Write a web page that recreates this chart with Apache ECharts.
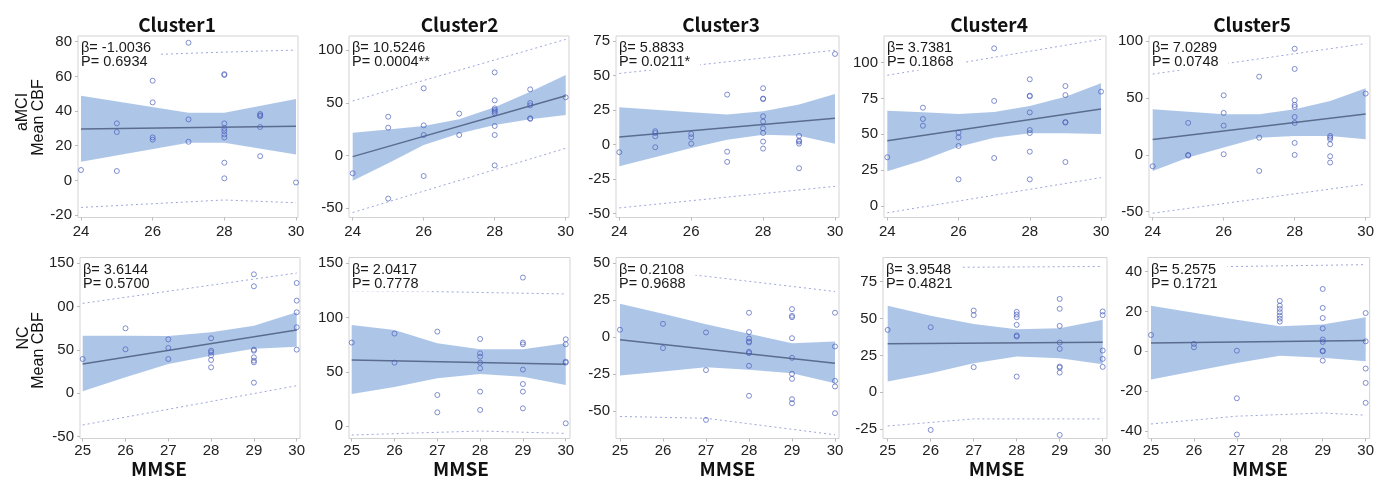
<!DOCTYPE html>
<html><head><meta charset="utf-8">
<script src="https://cdn.jsdelivr.net/npm/echarts@6/dist/echarts.min.js"></script>
<style>html,body{margin:0;padding:0;background:#fff;}#chart{width:1377px;height:479px;}</style>
</head><body><div id="chart"></div>
<script>
// ---------------- DATA ----------------
const clusterNames = ['Cluster1','Cluster2','Cluster3','Cluster4','Cluster5'];
const groupNames = ['aMCI','NC'];
const yAxisTitle = 'Mean CBF';
const xAxisTitle = 'MMSE';
const xTicksAMCI = [24,26,28,30];
const xTicksNC = [25,26,27,28,29,30];

// aMCI Cluster1
const aMCI_C1_points = [[24,6],[25,32.9],[25,27.9],[25,5.4],[26,57.5],[26,45],[26,24.8],[26,23.5],[27,79.4],[27,35.2],[27,22.3],[28,61.3],[28,60.8],[28,32.9],[28,30],[28,28.5],[28,26.5],[28,24.8],[28,10.2],[28,1.2],[29,38.3],[29,37.5],[29,37],[29,30.8],[29,14],[30,-1.2]];
const aMCI_C1_fit = [[24,29.6],[30,31.2]];
const aMCI_C1_band = [[24,10.8,48.8],[27,21.7,39],[28,21.7,39],[30,15,46.9]];
const aMCI_C1_piUpper = [[24,71.5],[26,72.6],[28,74],[30,75.2]];
const aMCI_C1_piLower = [[24,-15.6],[28,-11.3],[30,-12.9]];
const aMCI_C1_stats = ['β= -1.0036','P= 0.6934'];
const aMCI_C1_yTicks = [-20,0,20,40,60,80];

// aMCI Cluster2
const aMCI_C2_points = [[24,-16.8],[25,36.8],[25,26.4],[25,-40.8],[26,63.7],[26,28.6],[26,19.5],[26,-19.4],[27,39.7],[27,19.5],[28,78.8],[28,52.3],[28,44.7],[28,43.2],[28,41.6],[28,40],[28,28],[28,19.5],[28,-9.3],[29,62.7],[29,49.8],[29,47.6],[29,35.3],[29,34.8],[30,55.2]];
const aMCI_C2_fit = [[24,-1],[30,56.7]];
const aMCI_C2_band = [[24,-23.8,21.7],[25,-7.4,24.8],[26,10,28],[27,21,34.3],[28,29,45.7],[29,34.3,60.5],[30,38.4,76.3]];
const aMCI_C2_piUpper = [[24,51.7],[30,110.1]];
const aMCI_C2_piLower = [[24,-54],[30,6.9]];
const aMCI_C2_stats = ['β= 10.5246','P= 0.0004**'];
const aMCI_C2_yTicks = [-50,0,50,100];

// aMCI Cluster3
const aMCI_C3_points = [[24,-5.5],[25,9.7],[25,8.4],[25,6],[25,-1.9],[26,7.7],[26,5.3],[26,0.7],[27,36.2],[27,-5.1],[27,-12.5],[28,40.8],[28,33.3],[28,33],[28,20.5],[28,16.7],[28,11.8],[28,8.4],[28,2.2],[28,-2.9],[29,6.3],[29,2.9],[29,2.2],[29,0.7],[29,-17.1],[30,65.6]];
const aMCI_C3_fit = [[24,5.5],[30,19.1]];
const aMCI_C3_band = [[24,-15.7,27],[26,-2.4,23.4],[27,3.6,21.7],[28,7.2,24.1],[29,6.5,29],[30,0.7,36.7]];
const aMCI_C3_piUpper = [[24,51.5],[30,68.3]];
const aMCI_C3_piLower = [[24,-45.8],[30,-30.2]];
const aMCI_C3_stats = ['β= 5.8833','P= 0.0211*'];
const aMCI_C3_yTicks = [-50,-25,0,25,50,75];

// aMCI Cluster4
const aMCI_C4_points = [[24,34],[25,68.6],[25,60.7],[25,56],[26,51.2],[26,47.9],[26,41.9],[26,18.6],[27,110],[27,73.3],[27,33.5],[28,88.4],[28,77],[28,76.5],[28,65.3],[28,53],[28,50.9],[28,37.9],[28,18.6],[29,83.7],[29,77.4],[29,58.6],[29,58.2],[29,30.7],[30,79.8]];
const aMCI_C4_fit = [[24,45.6],[30,67.7]];
const aMCI_C4_band = [[24,24.2,66.5],[25,32,65.5],[26,41.4,64.2],[27,47.7,65.6],[28,50.7,69.8],[29,50.7,76.3],[30,50.2,85.6]];
const aMCI_C4_piUpper = [[24,91.2],[30,116.3]];
const aMCI_C4_piLower = [[24,-4.7],[30,19.8]];
const aMCI_C4_stats = ['β= 3.7381','P= 0.1868'];
const aMCI_C4_yTicks = [0,25,50,75,100];

// aMCI Cluster5
const aMCI_C5_points = [[24,-10],[25,28.2],[25,0],[25,-0.6],[26,52.5],[26,37],[26,25.8],[26,0.6],[27,68.9],[27,15.2],[27,-14.1],[28,93.5],[28,75.7],[28,48.1],[28,44],[28,42.2],[28,33.4],[28,28.2],[28,10.6],[28,0],[29,16.7],[29,15.2],[29,13.8],[29,9.4],[29,-1.2],[29,-6.7],[30,54]];
const aMCI_C5_fit = [[24,13.5],[30,36.1]];
const aMCI_C5_band = [[24,-14.1,40.2],[25,-2.3,38],[26,6.5,35.8],[27,15.2,35.8],[28,16.7,40.2],[29,16.7,47.5],[30,13.8,58.7]];
const aMCI_C5_piUpper = [[24,71.2],[30,98]];
const aMCI_C5_piLower = [[24,-51.3],[30,-25.8]];
const aMCI_C5_stats = ['β= 7.0289','P= 0.0748'];
const aMCI_C5_yTicks = [-50,0,50,100];

// NC Cluster1
const NC_C1_points = [[25,39.6],[26,75],[26,50.8],[27,62.3],[27,52.3],[27,39.6],[28,63.5],[28,49.2],[28,47.3],[28,43.8],[28,38.5],[28,30],[29,137.3],[29,123.5],[29,50.4],[29,49.2],[29,41.5],[29,37.7],[29,35.8],[29,12.3],[30,127.3],[30,106.9],[30,93.5],[30,76.2],[30,50.4]];
const NC_C1_fit = [[25,33.8],[30,73.1]];
const NC_C1_band = [[25,2.3,66.5],[26,18.5,66.3],[27,33.8,66.2],[28,43.5,70.4],[29,51.5,78],[30,53.8,93.5]];
const NC_C1_piUpper = [[25,103.8],[30,138.8]];
const NC_C1_piLower = [[25,-36.5],[30,8.8]];
const NC_C1_stats = ['β= 3.6144','P= 0.5700'];
const NC_C1_yTicks = [-50,0,50,100,150];
const NC_C1_yTickLabels = ['-50','0','50','00','150'];

// NC Cluster2
const NC_C2_points = [[25,76.9],[26,85.2],[26,58.4],[27,87],[27,28.6],[27,12.6],[28,80.2],[28,67],[28,64],[28,58.4],[28,53.2],[28,31.7],[28,14.8],[29,136.8],[29,76.9],[29,75.3],[29,52],[29,38.7],[29,31.7],[29,16.3],[30,79.9],[30,75.3],[30,59.3],[30,58.4],[30,2.5]];
const NC_C2_fit = [[25,60.9],[30,56.9]];
const NC_C2_band = [[25,29.5,93.1],[26,36,88.5],[27,44,76.2],[28,48,70.7],[29,45.5,70.7],[30,37.8,76.2]];
const NC_C2_piUpper = [[25,124.5],[27,123.8],[30,121.7]];
const NC_C2_piLower = [[25,-8.3],[28,-4.6],[30,-6.8]];
const NC_C2_stats = ['β= 2.0417','P= 0.7778'];
const NC_C2_yTicks = [0,50,100,150];

// NC Cluster3
const NC_C3_points = [[25,5],[26,9],[26,-7.4],[27,3.2],[27,-22.3],[27,-56],[28,16.5],[28,3.4],[28,-0.9],[28,-2.9],[28,-3.6],[28,-9.9],[28,-10.8],[28,-19.4],[28,-39.7],[29,19],[29,14.4],[29,13.5],[29,-0.7],[29,-14],[29,-24.8],[29,-28.2],[29,-42],[29,-44.7],[30,16.5],[30,-6.3],[30,-29.6],[30,-33.4],[30,-51.5]];
const NC_C3_fit = [[25,-1.8],[30,-17.6]];
const NC_C3_band = [[25,-26,22.6],[26,-23.3,15.8],[27,-20.3,8.8],[28,-22.1,2.3],[29,-24.4,-4.1],[30,-31.2,-2.9]];
const NC_C3_piUpper = [[25,46.5],[27,41.2],[30,30.9]];
const NC_C3_piLower = [[25,-53.7],[27,-54.9],[30,-66.1]];
const NC_C3_stats = ['β= 0.2108','P= 0.9688'];
const NC_C3_yTicks = [-50,-25,0,25,50];

// NC Cluster4
const NC_C4_points = [[25,42.3],[26,44.1],[26,-25.6],[27,55.4],[27,52.3],[27,17],[28,54.5],[28,52.7],[28,50.9],[28,45.7],[28,38.5],[28,37.8],[28,10.6],[29,63.3],[29,56.6],[29,45],[29,33.7],[29,29.4],[29,17.4],[29,16.7],[29,13.3],[29,-29],[30,54.8],[30,52.3],[30,28.3],[30,22.6],[30,17.2]];
const NC_C4_fit = [[25,32.8],[30,33.9]];
const NC_C4_band = [[25,7.2,58.6],[26,12.9,51.8],[27,19.7,46.2],[28,24.2,42.8],[29,23.1,43.4],[30,19,49.1]];
const NC_C4_piUpper = [[25,84.5],[30,85.3]];
const NC_C4_piLower = [[25,-22.9],[27,-18.1],[30,-18.1]];
const NC_C4_stats = ['β= 3.9548','P= 0.4821'];
const NC_C4_yTicks = [-25,0,25,50,75];

// NC Cluster5
const NC_C5_points = [[25,8.2],[26,3.7],[26,2],[27,0.3],[27,-23.6],[27,-41.8],[28,25.3],[28,22.9],[28,21.3],[28,19.6],[28,17.9],[28,16.4],[28,14.9],[29,31.3],[29,21.8],[29,16.7],[29,11.5],[29,5.9],[29,4.7],[29,0.3],[29,0],[29,-4.7],[30,19.2],[30,5],[30,-8.7],[30,-15.9],[30,-25.9]];
const NC_C5_fit = [[25,4.2],[30,5.4]];
const NC_C5_band = [[25,-14.2,22.9],[27,-5.9,15.9],[28,-2.2,12.6],[29,-3.3,13.4],[30,-5,17.1]];
const NC_C5_piUpper = [[25,42],[30,43.5]];
const NC_C5_piLower = [[25,-36.5],[27,-32.6],[29,-31],[30,-32.1]];
const NC_C5_stats = ['β= 5.2575','P= 0.1721'];
const NC_C5_yTicks = [-40,-20,0,20,40];

// ---------------- ASSEMBLY ----------------
const panelData = [
  {pts:aMCI_C1_points, fit:aMCI_C1_fit, band:aMCI_C1_band, piU:aMCI_C1_piUpper, piL:aMCI_C1_piLower, stats:aMCI_C1_stats, yTicks:aMCI_C1_yTicks, xTicks:xTicksAMCI},
  {pts:aMCI_C2_points, fit:aMCI_C2_fit, band:aMCI_C2_band, piU:aMCI_C2_piUpper, piL:aMCI_C2_piLower, stats:aMCI_C2_stats, yTicks:aMCI_C2_yTicks, xTicks:xTicksAMCI},
  {pts:aMCI_C3_points, fit:aMCI_C3_fit, band:aMCI_C3_band, piU:aMCI_C3_piUpper, piL:aMCI_C3_piLower, stats:aMCI_C3_stats, yTicks:aMCI_C3_yTicks, xTicks:xTicksAMCI},
  {pts:aMCI_C4_points, fit:aMCI_C4_fit, band:aMCI_C4_band, piU:aMCI_C4_piUpper, piL:aMCI_C4_piLower, stats:aMCI_C4_stats, yTicks:aMCI_C4_yTicks, xTicks:xTicksAMCI},
  {pts:aMCI_C5_points, fit:aMCI_C5_fit, band:aMCI_C5_band, piU:aMCI_C5_piUpper, piL:aMCI_C5_piLower, stats:aMCI_C5_stats, yTicks:aMCI_C5_yTicks, xTicks:xTicksAMCI},
  {pts:NC_C1_points, fit:NC_C1_fit, band:NC_C1_band, piU:NC_C1_piUpper, piL:NC_C1_piLower, stats:NC_C1_stats, yTicks:NC_C1_yTicks, yLabels:NC_C1_yTickLabels, xTicks:xTicksNC},
  {pts:NC_C2_points, fit:NC_C2_fit, band:NC_C2_band, piU:NC_C2_piUpper, piL:NC_C2_piLower, stats:NC_C2_stats, yTicks:NC_C2_yTicks, xTicks:xTicksNC},
  {pts:NC_C3_points, fit:NC_C3_fit, band:NC_C3_band, piU:NC_C3_piUpper, piL:NC_C3_piLower, stats:NC_C3_stats, yTicks:NC_C3_yTicks, xTicks:xTicksNC},
  {pts:NC_C4_points, fit:NC_C4_fit, band:NC_C4_band, piU:NC_C4_piUpper, piL:NC_C4_piLower, stats:NC_C4_stats, yTicks:NC_C4_yTicks, xTicks:xTicksNC},
  {pts:NC_C5_points, fit:NC_C5_fit, band:NC_C5_band, piU:NC_C5_piUpper, piL:NC_C5_piLower, stats:NC_C5_stats, yTicks:NC_C5_yTicks, xTicks:xTicksNC}
];

// layout: plot boxes (px) and axis extents
const layout = [
  {l:78,  t:36,    w:220, h:181.5, x0:23.916, x1:30.056, y0:-21.4, y1:83.3},
  {l:349, t:36,    w:220, h:181.5, x0:23.896, x1:30.093, y0:-58.7, y1:113.3},
  {l:616, t:36,    w:223, h:181.5, x0:23.908, x1:30.111, y0:-52.75, y1:78.6},
  {l:884, t:36,    w:222, h:181.5, x0:23.907, x1:30.14,  y0:-8.0,  y1:118.6},
  {l:1149,t:36,    w:221, h:181.5, x0:23.896, x1:30.121, y0:-55.1, y1:104.7},
  {l:80,  t:257.5, w:220, h:181,   x0:24.937, x1:30.077, y0:-52.1, y1:156.7},
  {l:349, t:257.5, w:221, h:181,   x0:24.937, x1:30.1,   y0:-11.5, y1:155.3},
  {l:616, t:257.5, w:223, h:181,   x0:24.907, x1:30.093, y0:-68.6, y1:53.9},
  {l:883, t:257.5, w:224, h:181,   x0:24.891, x1:30.1,   y0:-31.4, y1:91.4},
  {l:1148,t:257.5, w:222, h:181,   x0:24.93,  x1:30.093, y0:-43.8, y1:47.1}
];
const titleX = [177, 459.5, 721, 989, 1252];
const mmseX = [159, 461, 727.5, 996.7, 1260];

const BAND = 'rgba(150,182,226,0.78)';
const FIT = '#5b6d8e';
const PI = '#9ea6dc';
const PT = 'rgba(72,92,184,0.85)';
const LABEL_FONT = '"Liberation Sans", Arial, sans-serif';
const BOLD_FONT = '"Noto Sans CJK KR", "Open Sans", sans-serif';

const grids = [], xAxes = [], yAxes = [], series = [], graphics = [];

panelData.forEach((p, i) => {
  const L = layout[i];
  const row2 = i >= 5;
  grids.push({left:L.l, top:L.t, width:L.w, height:L.h, show:true, borderColor:'#d3d3d3', borderWidth:1, backgroundColor:'#fff', containLabel:false});
  xAxes.push({
    type:'value', gridIndex:i, min:L.x0, max:L.x1, position:'bottom',
    axisLine:{show:false, onZero:false}, splitLine:{show:false},
    axisTick:{show:true, length:3, lineStyle:{color:'#bbb'}, customValues:p.xTicks},
    axisLabel:{customValues:p.xTicks, fontSize:15, color:'#222', fontFamily:LABEL_FONT, margin: row2 ? 5 : 7}
  });
  yAxes.push({
    type:'value', gridIndex:i, min:L.y0, max:L.y1, position:'left',
    axisLine:{show:false, onZero:false}, splitLine:{show:false},
    axisTick:{show:true, length:3, lineStyle:{color:'#bbb'}, customValues:p.yTicks},
    axisLabel:{customValues:p.yTicks, fontSize:15, color:'#222', fontFamily:LABEL_FONT, margin:6,
      formatter: (v) => { if (p.yLabels) { const k = p.yTicks.indexOf(v); if (k >= 0) return p.yLabels[k]; } return String(v); }}
  });
  const band = p.band;
  series.push({
    type:'custom', xAxisIndex:i, yAxisIndex:i, silent:true, z:1,
    data: band, encode:{x:0, y:[1,2]},
    renderItem: function(params, api) {
      if (params.dataIndex !== 0) return null;
      const pts = [];
      for (let k = 0; k < band.length; k++) pts.push(api.coord([band[k][0], band[k][2]]));
      for (let k = band.length - 1; k >= 0; k--) pts.push(api.coord([band[k][0], band[k][1]]));
      return {type:'polygon', shape:{points:pts}, style:{fill:BAND}};
    }
  });
  [p.piU, p.piL].forEach(d => series.push({
    type:'line', xAxisIndex:i, yAxisIndex:i, data:d, showSymbol:false, silent:true, z:2,
    lineStyle:{color:PI, width:1, type:[2,3]}
  }));
  series.push({type:'line', xAxisIndex:i, yAxisIndex:i, data:p.fit, showSymbol:false, silent:true, z:3,
    lineStyle:{color:FIT, width:1.5}});
  series.push({type:'scatter', xAxisIndex:i, yAxisIndex:i, data:p.pts, symbol:'circle', symbolSize:5, silent:true, z:4,
    itemStyle:{color:'rgba(0,0,0,0)', borderColor:PT, borderWidth:1}});
  // stats annotation
  graphics.push({type:'text', left:L.l + 2, top:L.t + 4, z:100,
    style:{text:p.stats.join('\n'), font:'14.5px ' + LABEL_FONT, fill:'#1a1a1a', lineHeight:14,
      backgroundColor:'#fff', padding:[1,10,1,1]}});
});

clusterNames.forEach((c, j) => {
  graphics.push({type:'text', x:titleX[j], y:25, z:100,
    style:{text:c, font:'bold 19px ' + BOLD_FONT, fill:'#111', align:'center', verticalAlign:'middle'}});
  graphics.push({type:'text', x:mmseX[j], y:469, z:100,
    style:{text:xAxisTitle, font:'bold 19px ' + BOLD_FONT, fill:'#111', align:'center', verticalAlign:'middle'}});
});

const groupPos = [{gx:23, gy:112, mx:38.5, my:117.5}, {gx:23.5, gy:338, mx:39, my:350.5}];
groupNames.forEach((g, r) => {
  const P = groupPos[r];
  graphics.push({type:'text', x:P.gx, y:P.gy, rotation:Math.PI/2, z:100,
    style:{text:g, font:'16px ' + LABEL_FONT, fill:'#111', align:'center', verticalAlign:'middle'}});
  graphics.push({type:'text', x:P.mx, y:P.my, rotation:Math.PI/2, z:100,
    style:{text:yAxisTitle, font:'16px ' + LABEL_FONT, fill:'#111', align:'center', verticalAlign:'middle'}});
});

const chart = echarts.init(document.getElementById('chart'), null, {renderer:'canvas'});
chart.setOption({
  animation:false, backgroundColor:'#fff',
  grid:grids, xAxis:xAxes, yAxis:yAxes, series:series, graphic:graphics
});
</script></body></html>
